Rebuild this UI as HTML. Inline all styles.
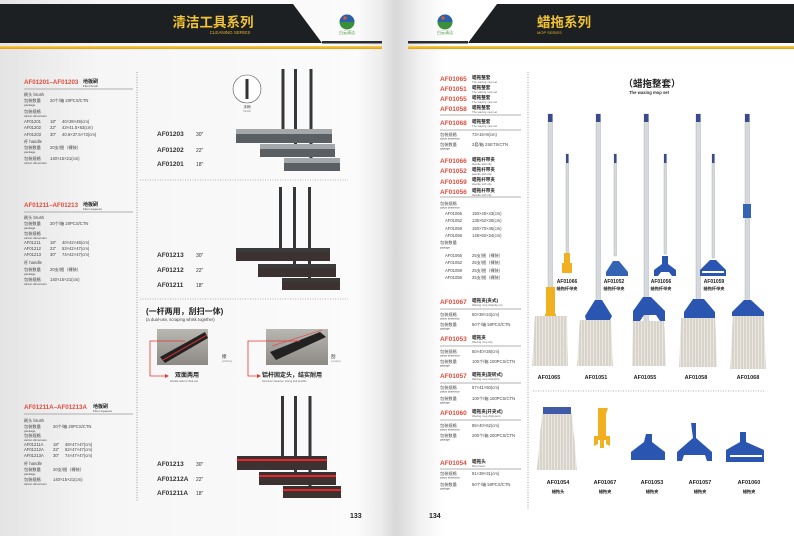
<!DOCTYPE html>
<html><head><meta charset="utf-8"><style>
html,body{margin:0;padding:0;background:#fff}
svg{display:block}
text{font-family:"Liberation Sans","Noto Sans CJK SC",sans-serif}
</style></head><body>
<svg width="794" height="536" viewBox="0 0 794 536" xmlns="http://www.w3.org/2000/svg">
<defs>
<linearGradient id="lp" x1="0" x2="1" y1="0" y2="0">
<stop offset="0" stop-color="#e4e4e4"/><stop offset="0.25" stop-color="#f6f6f6"/><stop offset="0.9" stop-color="#fbfbfb"/><stop offset="0.96" stop-color="#ececec"/><stop offset="1" stop-color="#d6d6d6"/></linearGradient>
<linearGradient id="rp" x1="0" x2="1" y1="0" y2="0">
<stop offset="0" stop-color="#d9d9d9"/><stop offset="0.06" stop-color="#f2f2f2"/><stop offset="0.12" stop-color="#fff"/><stop offset="1" stop-color="#fff"/></linearGradient>
<linearGradient id="gold" x1="0" x2="0" y1="0" y2="1"><stop offset="0" stop-color="#f7d24a"/><stop offset="1" stop-color="#e79a10"/></linearGradient>
<linearGradient id="ph" x1="0" x2="0" y1="0" y2="1"><stop offset="0" stop-color="#b9b7b2"/><stop offset="1" stop-color="#8d8a85"/></linearGradient>
<pattern id="mop" width="3" height="4" patternUnits="userSpaceOnUse"><rect width="3" height="4" fill="#e9e6e0"/><line x1="1" y1="0" x2="1" y2="4" stroke="#bdb8ae" stroke-width="0.8"/></pattern>
<pattern id="bri" width="2" height="4" patternUnits="userSpaceOnUse"><rect width="2" height="4" fill="#666b70"/><line x1="1" y1="0" x2="1" y2="4" stroke="#45484b" stroke-width="0.7"/></pattern>
<pattern id="bri2" width="2" height="4" patternUnits="userSpaceOnUse"><rect width="2" height="4" fill="#4a3a3a"/><line x1="1" y1="0" x2="1" y2="4" stroke="#222" stroke-width="0.7"/></pattern>
</defs>
<rect x="0" y="0" width="397" height="536" fill="url(#lp)"/>
<rect x="397" y="0" width="397" height="536" fill="url(#rp)"/>

<!-- LEFT HEADER -->
<polygon points="0,4 293,4 322,43 0,43" fill="#1d2022"/>
<rect x="322" y="41" width="60" height="2.5" fill="#2a2d30"/>
<rect x="0" y="46" width="382" height="3" fill="url(#gold)"/>
<text x="213" y="27" font-size="13.5" font-weight="bold" fill="#f1c232" text-anchor="middle" font-family="Noto Sans CJK SC,sans-serif">清洁工具系列</text>
<text x="230" y="34" font-size="4.5" fill="#e2b02a" text-anchor="middle">CLEANING SERIES</text>
<g transform="translate(347,22)"><circle r="7.5" fill="#3b8f3a"/><path d="M-7.5,0 A7.5,7.5 0 0 1 7.5,0 Z" fill="#2962a8"/><circle cx="-2" cy="-4" r="1.6" fill="#e53"/><text y="12" font-size="4" fill="#4a9a3a" text-anchor="middle">白云清洁</text></g>

<!-- RIGHT HEADER -->
<polygon points="497,4 794,4 794,43 468,43" fill="#1d2022"/>
<rect x="408" y="41" width="60" height="2.5" fill="#2a2d30"/>
<rect x="408" y="46" width="386" height="3" fill="url(#gold)"/>
<text x="537" y="27" font-size="13.5" font-weight="bold" fill="#f1c232" font-family="Noto Sans CJK SC,sans-serif">蜡拖系列</text>
<text x="537" y="34" font-size="4" fill="#e2b02a">MOP SERIES</text>
<g transform="translate(445,22)"><circle r="7.5" fill="#3b8f3a"/><path d="M-7.5,0 A7.5,7.5 0 0 1 7.5,0 Z" fill="#2962a8"/><circle cx="-2" cy="-4" r="1.6" fill="#e53"/><text y="12" font-size="4" fill="#4a9a3a" text-anchor="middle">白云清洁</text></g>

<!-- LEFT PAGE dotted lines -->
<line x1="137" y1="72" x2="137" y2="502" stroke="#777" stroke-width="0.7" stroke-dasharray="1,1.5"/>
<line x1="140" y1="180" x2="348" y2="180" stroke="#999" stroke-width="0.7" stroke-dasharray="1,1.5"/>
<line x1="140" y1="299" x2="348" y2="299" stroke="#999" stroke-width="0.7" stroke-dasharray="1,1.5"/>

<g font-size="4.2" fill="#444">
<!-- Section 1 -->
<text x="24" y="84" font-size="6.2" font-weight="bold" fill="#e34a3a">AF01201–AF01203</text>
<text x="83" y="83" font-size="5" font-weight="bold" fill="#222">地板刷</text><text x="83" y="87" font-size="3">Floor brush</text>
<line x1="24" y1="89" x2="133" y2="89" stroke="#999" stroke-width="0.7"/>
<text x="24" y="96">刷头 brush</text>
<text x="24" y="102">包装数量</text><text x="50" y="102">20个/箱 20PCS/CTN</text><text x="24" y="106" font-size="3">package</text>
<text x="24" y="113">包装规格</text><text x="24" y="117" font-size="3">carton dimension</text>
<text x="24" y="123">AF01201</text><text x="50" y="123">18"</text><text x="62" y="123">40×39×49(cm)</text>
<text x="24" y="129">AF01202</text><text x="50" y="129">22"</text><text x="62" y="129">43×41.5×63(cm)</text>
<text x="24" y="136">AF01203</text><text x="50" y="136">30"</text><text x="62" y="136">40.5×37.5×73(cm)</text>
<text x="24" y="143">杆 handle</text>
<text x="24" y="149">包装数量</text><text x="50" y="149">20支/捆（裸装）</text><text x="24" y="153" font-size="3">package</text>
<text x="24" y="160">包装规格</text><text x="50" y="160">140×15×21(cm)</text><text x="24" y="164" font-size="3">carton dimension</text>
<!-- Section 2 -->
<text x="24" y="207" font-size="6.2" font-weight="bold" fill="#e34a3a">AF01211–AF01213</text>
<text x="83" y="206" font-size="5" font-weight="bold" fill="#222">地板刷</text><text x="83" y="210" font-size="3">Floor squeeze</text>
<line x1="24" y1="212" x2="133" y2="212" stroke="#999" stroke-width="0.7"/>
<text x="24" y="219">刷头 brush</text>
<text x="24" y="225">包装数量</text><text x="50" y="225">20个/箱 20PCS/CTN</text><text x="24" y="229" font-size="3">package</text>
<text x="24" y="235">包装规格</text><text x="24" y="239" font-size="3">carton dimension</text>
<text x="24" y="244">AF01211</text><text x="50" y="244">18"</text><text x="62" y="244">40×42×46(cm)</text>
<text x="24" y="250">AF01212</text><text x="50" y="250">22"</text><text x="62" y="250">53×42×47(cm)</text>
<text x="24" y="256">AF01213</text><text x="50" y="256">30"</text><text x="62" y="256">74×42×47(cm)</text>
<text x="24" y="264">杆 handle</text>
<text x="24" y="271">包装数量</text><text x="50" y="271">20支/捆（裸装）</text><text x="24" y="275" font-size="3">package</text>
<text x="24" y="281">包装规格</text><text x="50" y="281">140×15×21(cm)</text><text x="24" y="285" font-size="3">carton dimension</text>
<!-- Section 3 -->
<text x="24" y="409" font-size="6.2" font-weight="bold" fill="#e34a3a">AF01211A–AF01213A</text>
<text x="93" y="408" font-size="5" font-weight="bold" fill="#222">地板刷</text><text x="93" y="412" font-size="3">Floor squeeze</text>
<line x1="24" y1="414" x2="133" y2="414" stroke="#999" stroke-width="0.7"/>
<text x="24" y="422">刷头 brush</text>
<text x="24" y="428">包装数量</text><text x="53" y="428">20个/箱 20PCS/CTN</text><text x="24" y="432" font-size="3">package</text>
<text x="24" y="437">包装规格</text><text x="24" y="441" font-size="3">carton dimension</text>
<text x="24" y="446">AF01211A</text><text x="53" y="446">18"</text><text x="65" y="446">48×47×47(cm)</text>
<text x="24" y="451">AF01212A</text><text x="53" y="451">22"</text><text x="65" y="451">62×47×47(cm)</text>
<text x="24" y="457">AF01213A</text><text x="53" y="457">30"</text><text x="65" y="457">74×47×47(cm)</text>
<text x="24" y="465">杆 handle</text>
<text x="24" y="471">包装数量</text><text x="53" y="471">20支/捆（裸装）</text><text x="24" y="475" font-size="3">package</text>
<text x="24" y="481">包装规格</text><text x="53" y="481">140×15×21(cm)</text><text x="24" y="485" font-size="3">carton dimension</text>
</g>

<!-- product labels left -->
<g font-size="6.5" font-weight="bold" fill="#333">
<text x="157" y="136">AF01203</text><text x="157" y="152">AF01202</text><text x="157" y="166">AF01201</text>
<text x="157" y="257">AF01213</text><text x="157" y="272">AF01212</text><text x="157" y="287">AF01211</text>
<text x="157" y="466">AF01213</text><text x="157" y="481">AF01212A</text><text x="157" y="495">AF01211A</text>
</g>
<g font-size="5" fill="#333">
<text x="196" y="136">30″</text><text x="196" y="152">22″</text><text x="196" y="166">18″</text>
<text x="196" y="257">30″</text><text x="196" y="272">22″</text><text x="196" y="287">18″</text>
<text x="196" y="466">30″</text><text x="196" y="481">22″</text><text x="196" y="495">18″</text>
</g>

<!-- brooms section 1 -->
<circle cx="247" cy="89" r="14" fill="#fff" stroke="#555" stroke-width="0.6"/>
<rect x="245.5" y="79" width="3" height="20" fill="#333"/>
<text x="247" y="108" font-size="3.5" text-anchor="middle" fill="#333">手柄</text><text x="247" y="112" font-size="2.5" text-anchor="middle" fill="#888">Handle</text>
<g>
<rect x="281.5" y="69" width="3" height="63" fill="#34383b"/>
<rect x="294" y="69" width="3" height="78" fill="#34383b"/>
<rect x="309.5" y="69" width="3" height="92" fill="#34383b"/>
<rect x="236" y="129" width="96" height="5" fill="#a4a8ab"/><rect x="236" y="134" width="96" height="9" fill="url(#bri)"/>
<rect x="260" y="144" width="75" height="5" fill="#a4a8ab"/><rect x="260" y="149" width="75" height="8" fill="url(#bri)"/>
<rect x="284" y="158" width="56" height="5" fill="#a4a8ab"/><rect x="284" y="163" width="56" height="8" fill="url(#bri)"/>
</g>
<!-- brooms section 2 -->
<g>
<rect x="279" y="187" width="3" height="63" fill="#34383b"/>
<rect x="293" y="187" width="3" height="79" fill="#34383b"/>
<rect x="308" y="187" width="3" height="93" fill="#34383b"/>
<rect x="236" y="248" width="94" height="4" fill="#3a3a3a"/><rect x="236" y="252" width="94" height="9" fill="url(#bri2)"/>
<rect x="258" y="264" width="78" height="4" fill="#3a3a3a"/><rect x="258" y="268" width="78" height="9" fill="url(#bri2)"/>
<rect x="282" y="278" width="58" height="4" fill="#3a3a3a"/><rect x="282" y="282" width="58" height="8" fill="url(#bri2)"/>
</g>
<!-- dual use -->
<text x="146" y="314" font-size="8" font-weight="bold" fill="#222">(一杆两用，刮扫一体)</text>
<text x="146" y="321" font-size="4.2" fill="#444">(a dual-use, scraping whisk together)</text>
<rect x="157" y="329" width="51" height="36" fill="url(#ph)"/>
<polygon points="160,357 205,332 208,338 165,363" fill="#222"/><line x1="163" y1="360" x2="207" y2="335" stroke="#e33" stroke-width="1"/>
<rect x="266" y="329" width="62" height="36" fill="url(#ph)"/>
<polygon points="270,352 320,332 326,337 276,360" fill="#222"/><line x1="272" y1="346" x2="322" y2="330" stroke="#e33" stroke-width="0.6"/>
<polyline points="185,341 150,341 150,376 165,376" fill="none" stroke="#e33" stroke-width="0.8"/><polygon points="165,374 169,376 165,378" fill="#e33"/>
<polyline points="300,341 248,341 248,376 257,376" fill="none" stroke="#e33" stroke-width="0.8"/><polygon points="257,374 261,376 257,378" fill="#e33"/>
<text x="175" y="377" font-size="6" font-weight="bold" fill="#222">双面两用</text>
<text x="170" y="382" font-size="2.6" fill="#666">Double-side for dual use</text>
<text x="262" y="377" font-size="6" font-weight="bold" fill="#222">铝杆固定头，结实耐用</text>
<text x="262" y="382" font-size="2.6" fill="#666">Aluminum fastener, strong and durable</text>
<text x="222" y="358" font-size="4.5" fill="#333">擦</text><text x="222" y="362" font-size="2.5" fill="#888">polishing</text>
<text x="331" y="358" font-size="4.5" fill="#333">刮</text><text x="331" y="362" font-size="2.5" fill="#888">scraping</text>
<!-- brooms section 3 -->
<g>
<rect x="281" y="396" width="3" height="62" fill="#34383b"/>
<rect x="294" y="396" width="3" height="78" fill="#34383b"/>
<rect x="308.5" y="396" width="3" height="92" fill="#34383b"/>
<rect x="237" y="456" width="90" height="3" fill="#333"/><rect x="237" y="459" width="90" height="2" fill="#e22"/><rect x="237" y="461" width="90" height="9" fill="url(#bri2)"/>
<rect x="259" y="472" width="77" height="3" fill="#333"/><rect x="259" y="475" width="77" height="2" fill="#e22"/><rect x="259" y="477" width="77" height="8" fill="url(#bri2)"/>
<rect x="283" y="486" width="58" height="3" fill="#333"/><rect x="283" y="489" width="58" height="2" fill="#e22"/><rect x="283" y="491" width="58" height="7" fill="url(#bri2)"/>
</g>
<text x="350" y="518" font-size="7" font-weight="bold" fill="#222">133</text>
<text x="429" y="518" font-size="7" font-weight="bold" fill="#222">134</text>

<!-- RIGHT PAGE -->
<line x1="528" y1="72" x2="528" y2="510" stroke="#777" stroke-width="0.7" stroke-dasharray="1,1.5"/>
<line x1="533" y1="391" x2="765" y2="391" stroke="#999" stroke-width="0.7" stroke-dasharray="1,1.5"/>
<g font-size="6.5" font-weight="bold" fill="#e34a3a">
<text x="440" y="81">AF01065</text><text x="440" y="91">AF01051</text><text x="440" y="101">AF01055</text><text x="440" y="111">AF01058</text>
<text x="440" y="125">AF01068</text>
<text x="440" y="163">AF01066</text><text x="440" y="173">AF01052</text><text x="440" y="184">AF01059</text><text x="440" y="194">AF01056</text>
<text x="440" y="304">AF01067</text><text x="440" y="341">AF01053</text><text x="440" y="378">AF01057</text><text x="440" y="415">AF01060</text><text x="440" y="465">AF01054</text>
</g>
<g font-size="4.6" font-weight="bold" fill="#222">
<text x="472" y="79">蜡拖整套</text><text x="472" y="89">蜡拖整套</text><text x="472" y="99">蜡拖整套</text><text x="472" y="109">蜡拖整套</text>
<text x="472" y="123">蜡拖整套</text>
<text x="472" y="161">蜡拖杆带夹</text><text x="472" y="171">蜡拖杆带夹</text><text x="472" y="181">蜡拖杆带夹</text><text x="472" y="192">蜡拖杆带夹</text>
<text x="472" y="302">蜡拖夹(夹式)</text><text x="472" y="339">蜡拖夹</text><text x="472" y="376">蜡拖夹(旋转式)</text><text x="472" y="413">蜡拖夹(开夹式)</text><text x="472" y="463">蜡拖头</text>
</g>
<g font-size="2.8" fill="#666">
<text x="472" y="83">The waxing mop set</text><text x="472" y="93">The waxing mop set</text><text x="472" y="103">The waxing mop set</text><text x="472" y="113">The waxing mop set</text>
<text x="472" y="127">The waxing mop set</text>
<text x="472" y="165">Handle with clip</text><text x="472" y="175">Handle with clip</text><text x="472" y="185">Handle with clip</text><text x="472" y="196">Handle with clip</text>
<text x="472" y="306">Waxing mop clip(clip-on)</text><text x="472" y="343">Waxing mop clip</text><text x="472" y="380">Waxing mop clip(spin)</text><text x="472" y="417">Waxing mop clip(open)</text><text x="472" y="467">Mop head</text>
</g>
<g stroke="#999" stroke-width="0.7">
<line x1="440" y1="115" x2="521" y2="115"/><line x1="440" y1="130" x2="521" y2="130"/><line x1="440" y1="197" x2="521" y2="197"/>
<line x1="440" y1="309" x2="521" y2="309"/><line x1="440" y1="346" x2="521" y2="346"/><line x1="440" y1="383" x2="521" y2="383"/><line x1="440" y1="420" x2="521" y2="420"/><line x1="440" y1="469" x2="521" y2="469"/>
</g>
<g font-size="4.2" fill="#444">
<text x="440" y="136">包装规格</text><text x="472" y="136">73×15×8(cm)</text><text x="440" y="139.5" font-size="2.6">carton dimension</text>
<text x="440" y="146">包装数量</text><text x="472" y="146">2套/箱 2SETS/CTN</text><text x="440" y="149.5" font-size="2.6">package</text>
<text x="440" y="205">包装规格</text><text x="440" y="208.5" font-size="2.6">carton dimension</text>
<text x="445" y="215">AF01065</text><text x="472" y="215">150×45×43(cm)</text>
<text x="445" y="222">AF01052</text><text x="472" y="222">135×52×30(cm)</text>
<text x="445" y="230">AF01059</text><text x="472" y="230">150×70×45(cm)</text>
<text x="445" y="237">AF01056</text><text x="472" y="237">148×60×34(cm)</text>
<text x="440" y="244">包装数量</text><text x="440" y="248.5" font-size="2.6">package</text>
<text x="445" y="257">AF01065</text><text x="472" y="257">25支/捆（裸装）</text>
<text x="445" y="264">AF01052</text><text x="472" y="264">25支/捆（裸装）</text>
<text x="445" y="272">AF01059</text><text x="472" y="272">25支/捆（裸装）</text>
<text x="445" y="279">AF01056</text><text x="472" y="279">25支/捆（裸装）</text>
<text x="440" y="316">包装规格</text><text x="472" y="316">50×38×24(cm)</text><text x="440" y="319.5" font-size="2.6">carton dimension</text>
<text x="440" y="326">包装数量</text><text x="472" y="326">50个/箱 50PCS/CTN</text><text x="440" y="329.5" font-size="2.6">package</text>
<text x="440" y="353">包装规格</text><text x="472" y="353">50×40×28(cm)</text><text x="440" y="356.5" font-size="2.6">carton dimension</text>
<text x="440" y="363">包装数量</text><text x="472" y="363">100个/箱 100PCS/CTN</text><text x="440" y="366.5" font-size="2.6">package</text>
<text x="440" y="389">包装规格</text><text x="472" y="389">57×41×50(cm)</text><text x="440" y="392.5" font-size="2.6">carton dimension</text>
<text x="440" y="400">包装数量</text><text x="472" y="400">100个/箱 100PCS/CTN</text><text x="440" y="403.5" font-size="2.6">package</text>
<text x="440" y="427">包装规格</text><text x="472" y="427">85×40×52(cm)</text><text x="440" y="430.5" font-size="2.6">carton dimension</text>
<text x="440" y="437">包装数量</text><text x="472" y="437">200个/箱 200PCS/CTN</text><text x="440" y="440.5" font-size="2.6">package</text>
<text x="440" y="475">包装规格</text><text x="472" y="475">91×39×31(cm)</text><text x="440" y="478.5" font-size="2.6">carton dimension</text>
<text x="440" y="486">包装数量</text><text x="472" y="486">50个/箱 50PCS/CTN</text><text x="440" y="489.5" font-size="2.6">package</text>
</g>

<text x="652" y="87" font-size="9.5" font-weight="bold" fill="#222" text-anchor="middle">（蜡拖整套）</text>
<text x="649" y="94" font-size="4.2" font-weight="bold" fill="#333" text-anchor="middle">The waxing mop set</text>

<!-- tall poles -->
<g fill="#d5d8dc" stroke="#aaa" stroke-width="0.4">
<rect x="548" y="114" width="4.5" height="210"/><rect x="596" y="114" width="4.5" height="212"/><rect x="644" y="114" width="4.5" height="210"/><rect x="696" y="114" width="4.5" height="212"/><rect x="745" y="114" width="4.5" height="215"/>
<rect x="566" y="154" width="2.5" height="100"/><rect x="614" y="154" width="2.5" height="102"/><rect x="664" y="154" width="2.5" height="100"/><rect x="712" y="154" width="2.5" height="104"/>
</g>
<g fill="#3a4a8c"><rect x="548" y="114" width="4.5" height="8"/><rect x="596" y="114" width="4.5" height="8"/><rect x="644" y="114" width="4.5" height="8"/><rect x="696" y="114" width="4.5" height="8"/><rect x="745" y="114" width="4.5" height="8"/>
<rect x="566" y="154" width="2.5" height="9"/><rect x="614" y="154" width="2.5" height="9"/><rect x="664" y="154" width="2.5" height="9"/><rect x="712" y="154" width="2.5" height="9"/></g>
<rect x="743" y="204" width="8" height="14" fill="#3563b3"/>
<!-- short clips -->
<rect x="564" y="253" width="6" height="20" fill="#f0b020"/><rect x="562" y="263" width="10" height="10" fill="#f0b020"/>
<polygon points="613,261 619,261 628,272 628,276 606,276 606,272" fill="#3563b3"/>
<path d="M662,256 h6 v8 l8,6 v6 h-4 l-3,-4 h-8 l-3,4 h-4 v-6 l8,-6z" fill="#2a55b0"/>
<path d="M710,260 h6 l10,10 v6 h-26 v-6z" fill="#2a55b0"/><rect x="702" y="271" width="22" height="2" fill="#fff"/>
<g font-size="5" font-weight="bold" fill="#222" text-anchor="middle">
<text x="567" y="283">AF01066</text><text x="614" y="283">AF01052</text><text x="661" y="283">AF01056</text><text x="714" y="283">AF01059</text>
</g>
<g font-size="4.2" font-weight="bold" fill="#222" text-anchor="middle">
<text x="567" y="290">蜡拖杆带夹</text><text x="614" y="290">蜡拖杆带夹</text><text x="661" y="290">蜡拖杆带夹</text><text x="714" y="290">蜡拖杆带夹</text>
</g>
<!-- mop heads -->
<rect x="546" y="287" width="9" height="36" fill="#f0b020"/><rect x="545" y="314" width="11" height="9" fill="#f0b020"/>
<polygon points="535,316 567,316 568,366 532,366" fill="url(#mop)"/>
<polygon points="595,300 602,300 612,316 610,320 586,320 585,316" fill="#2a55b0"/>
<polygon points="580,320 611,320 613,366 577,366" fill="url(#mop)"/>
<path d="M643,297 h8 l14,14 v10 h-5 l-4,-6 h-12 l-4,6 h-7 v-10z" fill="#2a55b0"/>
<polygon points="633,321 664,321 666,366 632,366" fill="url(#mop)"/>
<polygon points="693,299 704,299 715,312 715,318 684,318 684,312" fill="#2a55b0"/>
<polygon points="681,318 715,318 717,367 679,367" fill="url(#mop)"/>
<polygon points="744,300 751,300 764,312 764,316 732,316 732,312" fill="#2a55b0"/>
<polygon points="733,316 764,316 766,369 730,369" fill="url(#mop)"/>
<g font-size="5.5" font-weight="bold" fill="#222" text-anchor="middle">
<text x="549" y="379">AF01065</text><text x="596" y="379">AF01051</text><text x="645" y="379">AF01055</text><text x="696" y="379">AF01058</text><text x="748" y="379">AF01068</text>
</g>
<!-- bottom row -->
<rect x="543" y="407" width="28" height="7" fill="#3f5aa8"/>
<polygon points="542,414 572,414 577,470 537,470" fill="url(#mop)"/>
<path d="M598,408 h10 l-2,6 v22 h4 v10 l-4,-2 v-4 h-2 v8 h-4 v-8 h-2 v4 l-4,2 v-10 h4 v-22z" fill="#f0b020"/>
<path d="M646,434 h6 v8 l13,10 v8 h-34 v-8 l13,-10z" fill="#2a55b0"/>
<path d="M691,423 h5 v15 l16,14 v9 h-5 l-2,-6 h-21 l-2,6 h-5 v-9 l16,-14z" fill="#2a55b0"/>
<path d="M740,432 h6 v10 l18,8 v12 h-38 v-12 l14,-8z" fill="#2a55b0"/><rect x="730" y="455" width="32" height="2" fill="#fff"/>
<g font-size="5.5" font-weight="bold" fill="#222" text-anchor="middle">
<text x="558" y="484">AF01054</text><text x="605" y="484">AF01067</text><text x="652" y="484">AF01053</text><text x="700" y="484">AF01057</text><text x="749" y="484">AF01060</text>
</g>
<g font-size="4.2" font-weight="bold" fill="#222" text-anchor="middle">
<text x="558" y="493">蜡拖头</text><text x="605" y="493">蜡拖夹</text><text x="652" y="493">蜡拖夹</text><text x="700" y="493">蜡拖夹</text><text x="749" y="493">蜡拖夹</text>
</g>
</svg>
</body></html>
